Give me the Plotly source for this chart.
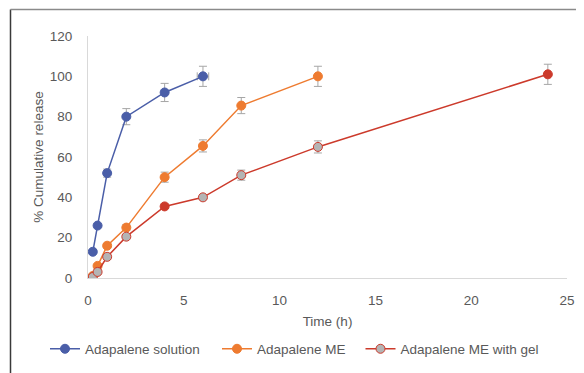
import plotly.graph_objects as go

# Data
time_solution = [0.25, 0.5, 1, 2, 4, 6]
release_solution = [13, 26, 52, 80, 92, 100]
err_solution = [0.8, 1, 2, 4, 4.5, 5]
errx_solution = [0, 0, 0, 0, 0, 0.3]

time_me = [0.25, 0.5, 1, 2, 4, 6, 8, 12]
release_me = [1, 6, 16, 25, 50, 65.5, 85.5, 100]
err_me = [0.5, 0.8, 1, 1.5, 2.5, 3, 4, 5]

time_gel = [0.25, 0.5, 1, 2, 4, 6, 8, 12, 24]
release_gel = [0.5, 3, 10.5, 20.5, 35.5, 40, 51, 65, 101]
err_gel = [0.3, 0.5, 0.8, 1, 1, 1.2, 2.5, 3, 5]
gel_fill = ["#B4B4B4", "#B4B4B4", "#B4B4B4", "#B4B4B4", "#CC3A2B",
            "#B4B4B4", "#B4B4B4", "#B4B4B4", "#CC3A2B"]

x_ticks = [0, 5, 10, 15, 20, 25]
y_ticks = [0, 20, 40, 60, 80, 100, 120]

BLUE = "#4A5EA8"
ORANGE = "#EE7B30"
RED = "#CC3A2B"
ERR = "#A6A6A6"
TXT = "#595959"
FS = 13.5

fig = go.Figure()
fig.add_trace(go.Scatter(
    x=time_solution, y=release_solution, name="Adapalene solution",
    mode="lines+markers", legend="legend",
    line=dict(color=BLUE, width=1.5),
    marker=dict(color=BLUE, size=9, line=dict(color=BLUE, width=1)),
    error_y=dict(type="data", array=err_solution, color=ERR, thickness=1, width=4),
    error_x=dict(type="data", array=errx_solution, color=ERR, thickness=1, width=4),
))
fig.add_trace(go.Scatter(
    x=time_me, y=release_me, name="Adapalene ME",
    mode="lines+markers", legend="legend2",
    line=dict(color=ORANGE, width=1.5),
    marker=dict(color=ORANGE, size=9, line=dict(color=ORANGE, width=1)),
    error_y=dict(type="data", array=err_me, color=ERR, thickness=1, width=4),
))
fig.add_trace(go.Scatter(
    x=time_gel, y=release_gel, name="Adapalene ME with gel",
    mode="lines+markers", legend="legend3",
    line=dict(color=RED, width=1.5),
    marker=dict(color=gel_fill, size=9, line=dict(color=RED, width=1)),
    error_y=dict(type="data", array=err_gel, color=ERR, thickness=1, width=4),
))

# page is shown with an 8px body margin; compensate
W, H = 576, 365
L, R, T, B = 80, 17, 28, 95
pw, ph = W - L - R, H - T - B
left_x = (2.5 - L) / pw
top_y = 1 + (T - 1.5) / ph


def leg(xpx):
    return dict(orientation="h", xref="container", x=xpx / W, xanchor="left",
                yref="container", y=1 - 341 / H, yanchor="middle",
                font=dict(size=FS, color=TXT), itemwidth=30,
                bgcolor="rgba(0,0,0,0)")


fig.update_layout(
    width=W, height=H,
    margin=dict(l=L, r=R, t=T, b=B, autoexpand=False),
    paper_bgcolor="#FFFFFF", plot_bgcolor="#FFFFFF",
    font=dict(family="Liberation Sans, Arial, sans-serif", size=FS, color=TXT),
    showlegend=True,
    legend=leg(37), legend2=leg(209), legend3=leg(352.5),
    xaxis=dict(range=[0, 25], tickvals=x_ticks, showgrid=False, zeroline=False,
               showline=True, linecolor="#D9D9D9", linewidth=1,
               ticks="", ticklabelstandoff=10,
               title=dict(text="Time (h)", standoff=9, font=dict(size=FS))),
    yaxis=dict(range=[0, 120], tickvals=y_ticks, showgrid=False, zeroline=False,
               showline=True, linecolor="#D9D9D9", linewidth=1,
               ticks="", ticklabelstandoff=12,
               title=dict(text="% Cumulative release", standoff=3, font=dict(size=FS))),
    shapes=[
        dict(type="line", xref="paper", yref="paper", x0=left_x, x1=left_x,
             y0=top_y, y1=-0.4, line=dict(color="#3A3A3A", width=1.5)),
        dict(type="line", xref="paper", yref="paper", x0=left_x, x1=1.1,
             y0=top_y, y1=top_y, line=dict(color="#8A8A8A", width=1.5)),
    ],
)

fig.write_html("out.html")
